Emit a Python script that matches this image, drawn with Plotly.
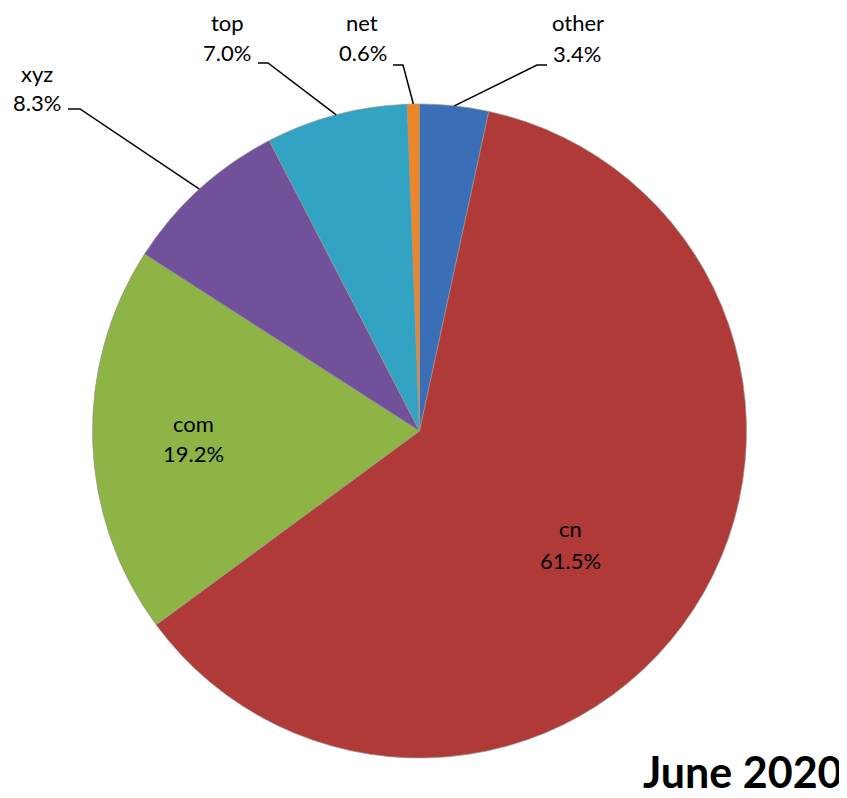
import math
import plotly.graph_objects as go

# ---- data ----
labels = ["other", "cn", "com", "xyz", "top", "net"]
values = [3.4, 61.5, 19.2, 8.3, 7.0, 0.6]
colors = ["#3A6EB7", "#B03A37", "#8DB444", "#70519A", "#33A3C4", "#EC8626"]
title_text = "June 2020"

# page body has an 8px margin, so the figure starts at (8, 8) on screen
OFF = 8
W, H = 847 - OFF, 798 - OFF
CX, CY, R = 419.5, 431.0, 327.0   # pie centre / radius in screen pixels

def px(x, y):
    return (x - OFF) / W, 1 - (y - OFF) / H

fig = go.Figure()
d0 = px(CX - R, CY + R)
d1 = px(CX + R, CY - R)
fig.add_trace(go.Pie(
    labels=labels, values=values, sort=False, direction="clockwise", rotation=0,
    marker=dict(colors=colors, line=dict(color="rgba(150,150,150,0.7)", width=1)),
    textinfo="none", hoverinfo="label+percent", showlegend=False,
    domain=dict(x=[d0[0], d1[0]], y=[d0[1], d1[1]]),
))

# label placement (screen pixels): name centre, percent centre, elbow x0, elbow x1, elbow y
label_layout = {
    "other": ((578, 23), (577, 54), 547, 537, 65),
    "cn":    ((570, 528), (570, 560), None, None, None),
    "com":   ((193, 423), (193, 453), None, None, None),
    "xyz":   ((37, 73), (37, 103), 68, 80, 109),
    "top":   ((227, 23), (227, 53), 258, 268, 63),
    "net":   ((362, 23), (363, 53), 393, 403, 65),
}

font_family = "Lato, 'Open Sans', sans-serif"
total = sum(values)
cum = 0.0
shapes = []
annotations = []
for lab, val in zip(labels, values):
    mid = (cum + val / 2) / total * 2 * math.pi
    cum += val
    (nx, ny), (qx, qy), ex0, ex1, ey = label_layout[lab]
    pct = f"{val / total * 100:.1f}%"
    for (x, y), t in (((nx, ny), lab), ((qx, qy), pct)):
        p = px(x, y)
        annotations.append(dict(
            x=p[0], y=p[1], xref="paper", yref="paper", text=t, showarrow=False,
            xanchor="center", yanchor="middle",
            font=dict(family=font_family, size=22, color="#000000"),
        ))
    if ex0 is not None:
        ax = CX + R * math.sin(mid)
        ay = CY - R * math.cos(mid)
        p0, p1, p2 = px(ex0, ey), px(ex1, ey), px(ax, ay)
        shapes.append(dict(
            type="path", xref="paper", yref="paper",
            path=f"M {p0[0]},{p0[1]} L {p1[0]},{p1[1]} L {p2[0]},{p2[1]}",
            line=dict(color="#000000", width=1.5),
        ))

pt = px(845, 771)
annotations.append(dict(
    x=pt[0], y=pt[1], xref="paper", yref="paper",
    text=f"<b>{title_text}</b>", showarrow=False, xanchor="right", yanchor="middle",
    font=dict(family=font_family, size=43, color="#000000"),
))

fig.update_layout(
    width=W, height=H, margin=dict(l=0, r=0, t=0, b=0),
    paper_bgcolor="white", plot_bgcolor="white",
    shapes=shapes, annotations=annotations,
)
fig.write_html("out.html")
